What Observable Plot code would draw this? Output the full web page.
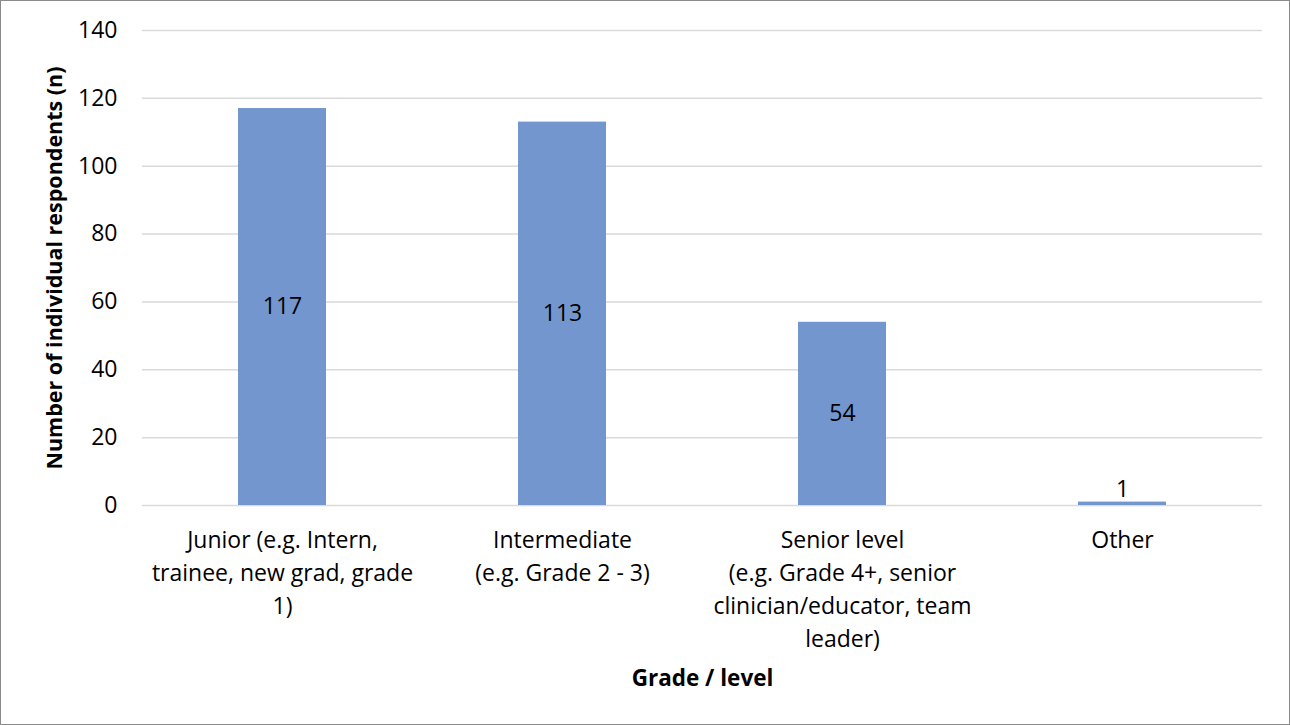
<!DOCTYPE html>
<html><head><meta charset="utf-8">
<script src="https://cdn.jsdelivr.net/npm/d3@7"></script>
<script src="https://cdn.jsdelivr.net/npm/@observablehq/plot@0.6"></script>
<style>
body{margin:0;background:#fff;}
#chart svg{display:block; outline:1.5px solid #8a8a8a; outline-offset:-1.5px;}
</style></head><body><div id="chart"></div>
<script>
const categories = ["Junior", "Intermediate", "Senior level", "Other"];
const tickLabels = [
  "Junior (e.g. Intern,\ntrainee, new grad, grade\n1)",
  "Intermediate\n(e.g. Grade 2 - 3)",
  "Senior level\n(e.g. Grade 4+, senior\nclinician/educator, team\nleader)",
  "Other"
];
const values = [117, 113, 54, 1];
const yTicks = [0, 20, 40, 60, 80, 100, 120, 140];
const yTitle = "Number of individual respondents (n)";
const xTitle = "Grade / level";

const data = categories.map((c, i) => ({category: c, value: values[i]}));

const chart = Plot.plot({
  width: 1290, height: 725,
  marginLeft: 142, marginRight: 28, marginTop: 30, marginBottom: 220,
  style: {fontFamily: "'Open Sans', sans-serif", fontSize: "23px", color: "#000", background: "#fff"},
  x: {domain: categories, paddingInner: 0.686, paddingOuter: 0.343, label: null},
  y: {domain: [0, 140], label: null},
  marks: [
    Plot.gridY(yTicks, {stroke: "#d9d9d9", strokeOpacity: 1, strokeWidth: 1.5}),
    Plot.barY(data, {x: "category", y: "value", fill: "#7396ce"}),
    Plot.text(data.filter(d => d.value >= 10), {x: "category", y: d => d.value / 2, text: d => String(d.value), fontSize: 23, fill: "#000"}),
    Plot.text(data.filter(d => d.value < 10), {x: "category", y: "value", text: d => String(d.value), fontSize: 23, fill: "#000", lineAnchor: "bottom", dy: -5}),
    Plot.axisY({ticks: yTicks, tickSize: 0, tickPadding: 25, label: null, fontSize: 23}),
    Plot.axisX({tickSize: 0, tickPadding: 19, tickFormat: c => tickLabels[categories.indexOf(c)], lineHeight: 1.43, fontSize: 23, label: null}),
    Plot.text([yTitle], {text: d => d, frameAnchor: "left", textAnchor: "middle", rotate: -90, dx: -87, fontWeight: "bold", fontSize: 21.5}),
    Plot.text([xTitle], {text: d => d, frameAnchor: "bottom", textAnchor: "middle", dy: 180, fontWeight: "bold", fontSize: 22.5})
  ]
});
document.getElementById("chart").append(chart);
</script></body></html>
